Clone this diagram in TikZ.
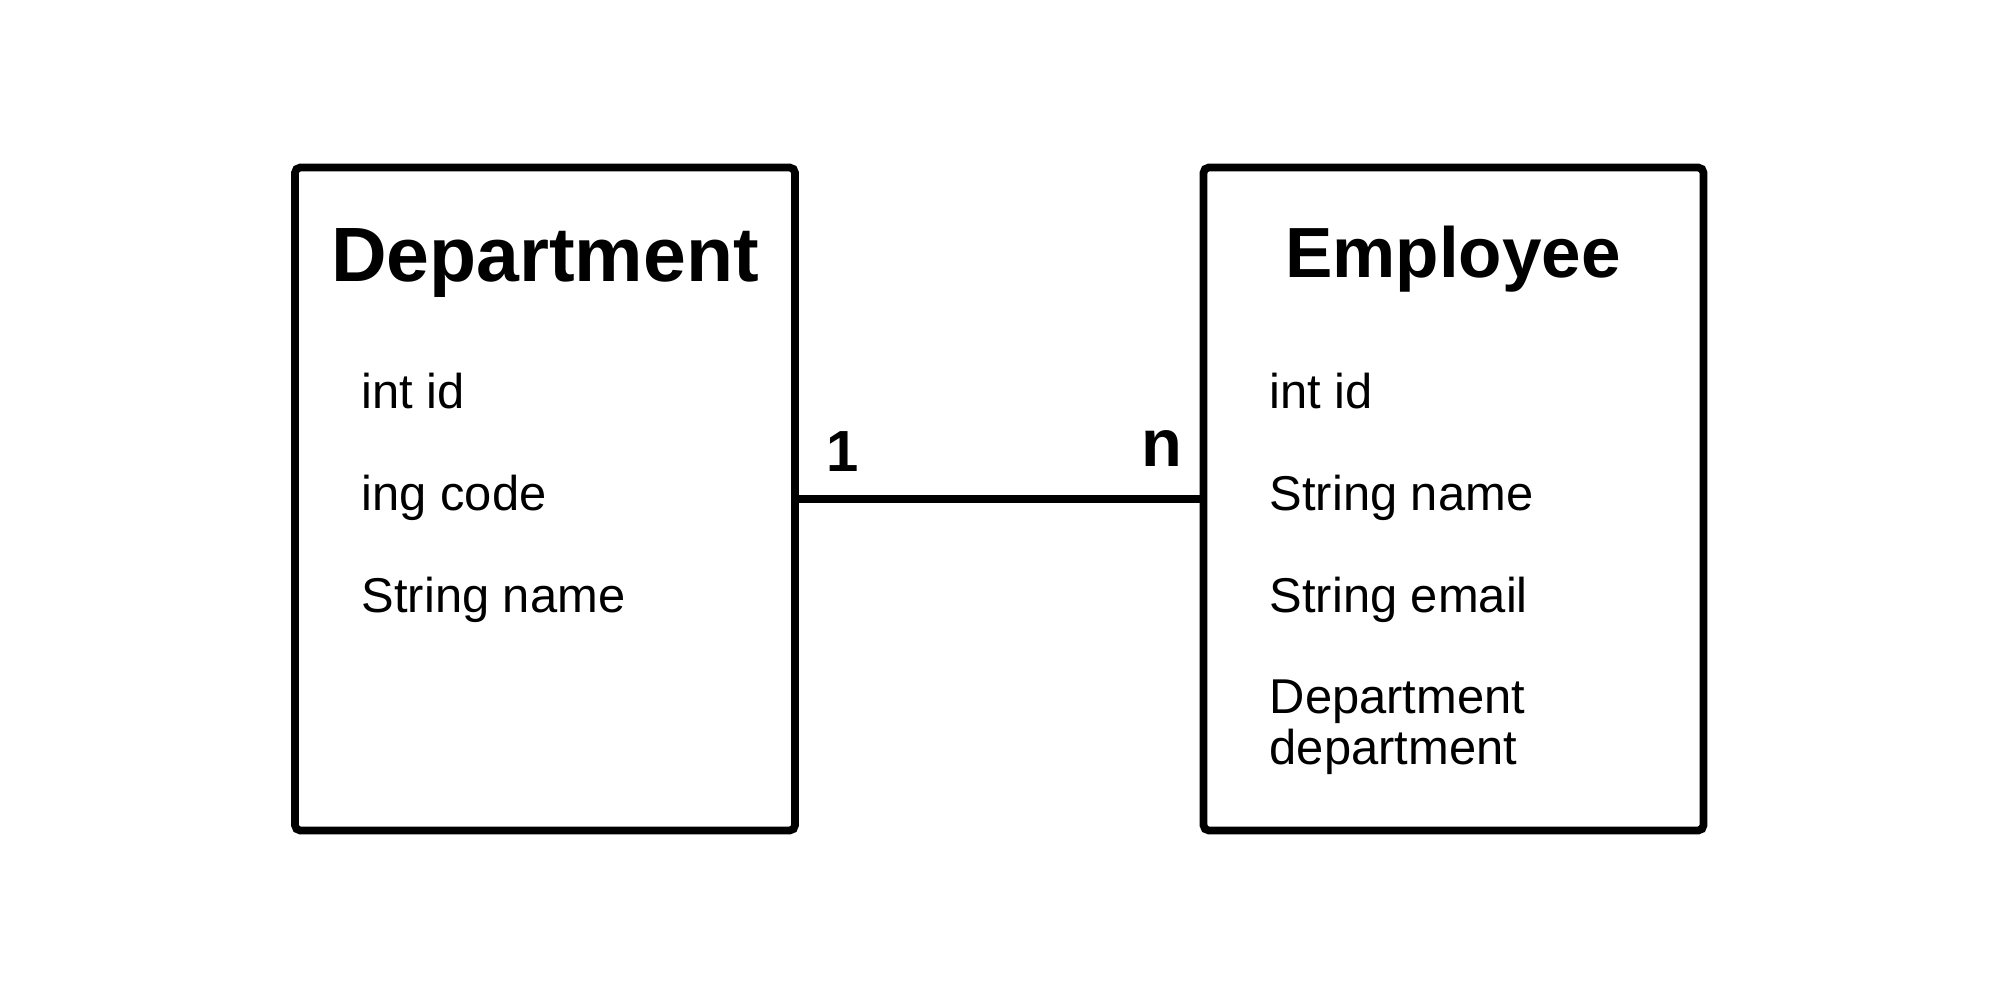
\documentclass[tikz,border=0pt]{standalone}
\usepackage{fontspec}
\setmainfont{Liberation Sans}
\usetikzlibrary{positioning}

\tikzset{
  entity/.style={draw, line width=2.2pt, rounded corners=1.5pt, minimum width=500*0.01cm, minimum height=663*0.01cm, inner sep=0pt},
  etitle/.style={anchor=base, font=\fontsize{21.9}{24}\selectfont\bfseries},
  attr/.style={anchor=base west, align=left, font=\fontsize{13.9}{14.3}\selectfont, inner sep=0pt},
  card/.style={anchor=base west, inner sep=0pt, font=\bfseries},
  rel/.style={line width=2.3pt}
}

\begin{document}
\begin{tikzpicture}[x=0.01cm, y=-0.01cm]
  \useasboundingbox (0,0) rectangle (2000,1000);
  % the two entities
  \node[entity] (dept) at (545,499) {};
  \node[entity] (emp) at (1453.5,499) {};
  \node[etitle] (depttitle) at (545,281) {Department};
  \node[etitle, font=\fontsize{20.2}{24}\selectfont\bfseries] (emptitle) at (1453,277) {Employee};
  % attributes
  \node[attr] (deptid) at (361,408) {int id};
  \node[attr, below=102*0.01cm of deptid.base west, anchor=base west] (deptcode) {ing code};
  \node[attr, below=102*0.01cm of deptcode.base west, anchor=base west] (deptname) {String name};
  \node[attr] (empid) at (1269,408) {int id};
  \node[attr, below=102*0.01cm of empid.base west, anchor=base west] (empname) {String name};
  \node[attr, below=102*0.01cm of empname.base west, anchor=base west] (empemail) {String email};
  \node[attr, below=152*0.01cm of empemail.base west, anchor=base west] (empdept) {Department\\department};
  % relation
  \draw[rel] (dept) -- (emp);
  \node[card, font=\fontsize{16.5}{18}\selectfont\bfseries] (one) at (826,471) {1};
  \node[card, font=\fontsize{19}{22}\selectfont\bfseries] (many) at (1141,466) {n};
\end{tikzpicture}
\end{document}
